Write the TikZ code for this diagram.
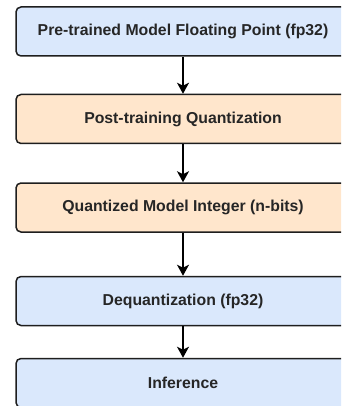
\documentclass[tikz,border=0pt]{standalone}
\usepackage{fontspec}
\setmainfont{Liberation Sans}
\usetikzlibrary{arrows.meta}
\definecolor{stepblue}{HTML}{DAE8FC}
\definecolor{steporange}{HTML}{FFE6CC}
\definecolor{edgegray}{HTML}{1E1E1E}
\tikzset{
  stagebox/.style={draw=edgegray, line width=1.5pt, rounded corners=5pt,
    minimum width=334pt, minimum height=49pt, inner sep=0pt,
    font=\fontsize{15.8}{18}\selectfont\bfseries, text=black!85},
  bluebox/.style={stagebox, fill=stepblue},
  orangebox/.style={stagebox, fill=steporange},
  flow/.style={draw=black, line width=1.5pt,
    -{Stealth[length=11pt, width=12pt, inset=3pt]}}
}
\begin{document}
\begin{tikzpicture}[x=1pt, y=-1pt]
  \useasboundingbox (0,0) rectangle (341,406);
  \clip (0,0) rectangle (341,406);
  \node[bluebox]   (pre)   at (183,31.5)  {Pre-trained Model Floating Point (fp32)};
  \node[orangebox] (ptq)   at (183,119)   {Post-training Quantization};
  \node[orangebox] (qint)  at (183,207.5) {Quantized Model Integer (n-bits)};
  \node[bluebox]   (deq)   at (183,301)   {Dequantization (fp32)};
  \node[bluebox]   (inf)   at (183,383)   {Inference};
  \draw[flow] (pre)  -- (ptq);
  \draw[flow] (ptq)  -- (qint);
  \draw[flow] (qint) -- (deq);
  \draw[flow] (deq)  -- (inf);
\end{tikzpicture}
\end{document}
